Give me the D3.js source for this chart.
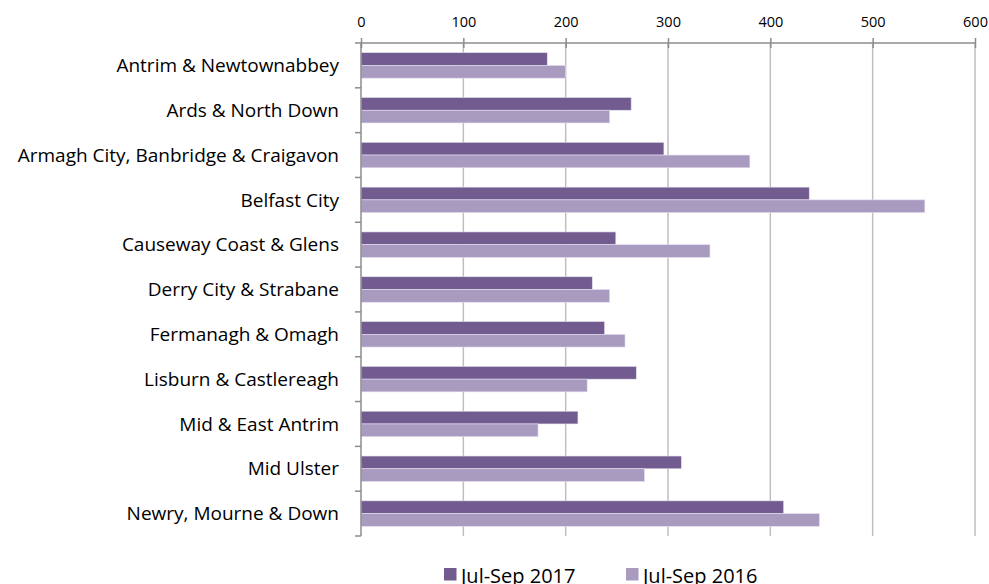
<!DOCTYPE html>
<html lang="en">
<head>
    <meta charset="UTF-8">
    <title>Regions: Jul-Sep 2017 vs Jul-Sep 2016</title>
    <style>
        body {
            margin: 0;
            padding: 0;
            background: #fff;
            font-family: 'Open Sans', 'DejaVu Sans', sans-serif;
        }
        .grid line { stroke: #bfbfbf; stroke-width: 1.5px; }
        .axis path, .axis line { stroke: #8c8c8c; stroke-width: 1.5px; }
    </style>
</head>
<body>
    <div id="chart"></div>

    <script src="https://d3js.org/d3.v7.min.js"></script>
    <script>
        const regions = [
            "Antrim & Newtownabbey",
            "Ards & North Down",
            "Armagh City, Banbridge & Craigavon",
            "Belfast City",
            "Causeway Coast & Glens",
            "Derry City & Strabane",
            "Fermanagh & Omagh",
            "Lisburn & Castlereagh",
            "Mid & East Antrim",
            "Mid Ulster",
            "Newry, Mourne & Down"
        ];
        const series = ["Jul-Sep 2017", "Jul-Sep 2016"];
        const values2017 = [182, 264, 296, 438, 249, 226, 238, 269, 212, 313, 413];
        const values2016 = [200, 243, 380, 551, 341, 243, 258, 221, 173, 277, 448];
        const xTicks = [0, 100, 200, 300, 400, 500, 600];

        const width = 989;
        const height = 584;
        const margin = { top: 43, right: 14, bottom: 48, left: 361 };

        const rows = regions.map((r, i) => ({
            region: r,
            vals: [values2017[i], values2016[i]]
        }));

        const color = d3.scaleOrdinal()
            .domain(series)
            .range(["#725b8f", "#a99bc0"]);

        const svg = d3.select("#chart")
            .append("svg")
            .attr("width", width)
            .attr("height", height);

        const x = d3.scaleLinear()
            .domain([0, 600])
            .range([margin.left, width - margin.right]);

        const y0 = d3.scaleBand()
            .domain(regions)
            .range([margin.top, height - margin.bottom])
            .padding(0);

        const y1 = d3.scaleBand()
            .domain(series)
            .range([0, y0.bandwidth()])
            .paddingInner(0)
            .paddingOuter(0.76);

        // vertical gridlines
        svg.append("g")
            .attr("class", "grid")
            .selectAll("line")
            .data(xTicks.slice(1))
            .enter().append("line")
            .attr("x1", d => x(d))
            .attr("x2", d => x(d))
            .attr("y1", margin.top)
            .attr("y2", height - margin.bottom);

        // bars
        const groups = svg.append("g")
            .selectAll("g")
            .data(rows)
            .enter().append("g")
            .attr("transform", d => `translate(0,${y0(d.region)})`);

        groups.selectAll("rect")
            .data(d => d.vals.map((v, i) => ({ key: series[i], value: v })))
            .enter().append("rect")
            .attr("x", x(0))
            .attr("y", d => y1(d.key))
            .attr("width", d => x(d.value) - x(0))
            .attr("height", y1.bandwidth())
            .attr("fill", d => color(d.key))
            .attr("stroke", "#e4def0")
            .attr("stroke-width", 0.6);

        // top axis
        const xAxis = svg.append("g")
            .attr("class", "axis")
            .attr("transform", `translate(0,${margin.top})`)
            .call(d3.axisTop(x).tickValues(xTicks).tickSize(5).tickSizeOuter(0).tickPadding(11));
        xAxis.select(".domain").attr("d", `M${x(0) - 6},0H${x(600) + 1}`);
        xAxis.selectAll(".tick line").attr("y2", -5).attr("y1", 5);
        xAxis.selectAll("text")
            .attr("font-family", "'Open Sans', sans-serif")
            .attr("font-size", "14.5px")
            .attr("fill", "#000");

        // left axis with tick marks at band edges
        const yAxis = svg.append("g").attr("class", "axis");
        yAxis.append("line")
            .attr("x1", x(0)).attr("x2", x(0))
            .attr("y1", margin.top).attr("y2", height - margin.bottom);
        yAxis.selectAll(".edge")
            .data(regions.slice(1).concat(["__end"]))
            .enter().append("line")
            .attr("class", "edge")
            .attr("x1", x(0) - 6).attr("x2", x(0))
            .attr("y1", d => d === "__end" ? height - margin.bottom : y0(d))
            .attr("y2", d => d === "__end" ? height - margin.bottom : y0(d));

        svg.append("g")
            .selectAll("text")
            .data(regions)
            .enter().append("text")
            .attr("x", x(0) - 22)
            .attr("y", d => y0(d) + y0.bandwidth() / 2)
            .attr("dy", "0.35em")
            .attr("text-anchor", "end")
            .attr("font-size", "19px")
            .attr("fill", "#000")
            .text(d => d);

        // legend
        const legend = svg.append("g")
            .selectAll("g")
            .data(series)
            .enter().append("g")
            .attr("transform", (d, i) => `translate(${444 + i * 182},568)`);
        legend.append("rect")
            .attr("width", 12.5)
            .attr("height", 12.5)
            .attr("fill", d => color(d));
        legend.append("text")
            .attr("x", 17)
            .attr("y", 14.5)
            .attr("font-size", "20px")
            .attr("fill", "#000")
            .text(d => d);
    </script>
</body>
</html>
